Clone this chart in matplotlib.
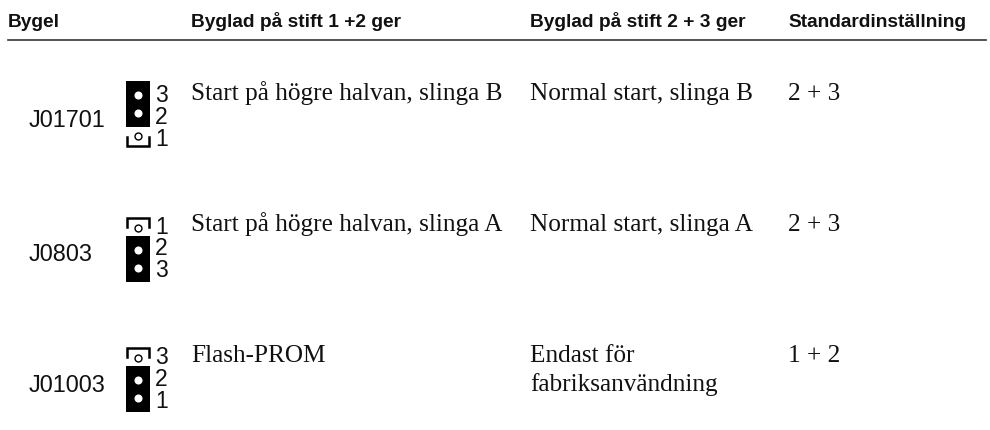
#!/usr/bin/env python3
"""Jumper settings table drawn on a pixel-sized axes."""

import matplotlib
matplotlib.use("Agg")
import matplotlib.pyplot as plt
from matplotlib.patches import Rectangle

headers = ["Bygel", "Byglad på stift 1 +2 ger", "Byglad på stift 2 + 3 ger", "Standardinställning"]
jumpers = ["J01701", "J0803", "J01003"]
pin_labels = [["3", "2", "1"], ["1", "2", "3"], ["3", "2", "1"]]
open_pin_top = [False, True, True]
setting_12 = ["Start på högre halvan, slinga B", "Start på högre halvan, slinga A", "Flash-PROM"]
setting_23 = ["Normal start, slinga B", "Normal start, slinga A", "Endast för\nfabriksanvändning"]
defaults = ["2 + 3", "2 + 3", "1 + 2"]

W, H = 990, 431
HEADER_X = [8, 191, 530, 788]
ROW_TEXT_Y = [100, 231, 362]
ROW_LABEL_Y = [127, 261, 392]
BLOCK_TOP = [82, 237, 367]
PIN_LABEL_Y = [[102, 124, 146], [234, 255.5, 277], [364, 386, 408]]
SANS = "Liberation Sans"
SERIF = "Liberation Serif"
INK = "#111111"


def draw_jumper(ax, block_top, open_top, labels, label_ys):
    """Black block with two pins, and the open pin in its bracket."""
    cx = 138
    ax.add_patch(Rectangle((cx - 12, block_top), 24, 46, color="black", lw=0))
    ax.plot([cx, cx], [block_top + 14, block_top + 32], "o", ms=5.8, color="white", mew=0)

    xs = [cx - 11, cx - 11, cx + 11, cx + 11]
    if open_top:
        top = block_top - 18.5
        ax.plot(xs, [top + 9, top, top, top + 9], color="black", lw=1.8, solid_joinstyle="miter")
        pin_y = top + 10
    else:
        bottom = block_top + 65
        ax.plot(xs, [bottom - 9, bottom, bottom, bottom - 9], color="black", lw=1.8, solid_joinstyle="miter")
        pin_y = bottom - 10
    ax.plot([cx], [pin_y], "o", ms=5, mfc="white", mec="black", mew=1.0)

    for label, y in zip(labels, label_ys):
        ax.text(155, y, label, family=SANS, fontsize=16.5, va="baseline", ha="left", color=INK)


def main():
    fig = plt.figure(figsize=(W / 100, H / 100), dpi=100, facecolor="white")
    ax = fig.add_axes([0, 0, 1, 1])
    ax.set_xlim(0, W)
    ax.set_ylim(H, 0)
    ax.axis("off")

    for x, label in zip(HEADER_X, headers):
        ax.text(x, 27, label, family=SANS, fontweight="bold", fontsize=13.8, va="baseline", ha="left", color=INK)
    ax.plot([8, 986], [41, 41], color="#333333", lw=1.2)

    for i, name in enumerate(jumpers):
        ax.text(29, ROW_LABEL_Y[i], name, family=SANS, fontsize=16.9, va="baseline", ha="left", color=INK)
        draw_jumper(ax, BLOCK_TOP[i], open_pin_top[i], pin_labels[i], PIN_LABEL_Y[i])
        for x, value in zip(HEADER_X[1:], [setting_12[i], setting_23[i], defaults[i]]):
            for k, line in enumerate(value.split("\n")):
                ax.text(x, ROW_TEXT_Y[i] + k * 29, line, family=SERIF, fontsize=18.2, va="baseline", ha="left",
                        color=INK)

    fig.savefig("out.png", dpi=100, facecolor="white")
    plt.close(fig)


if __name__ == "__main__":
    main()
